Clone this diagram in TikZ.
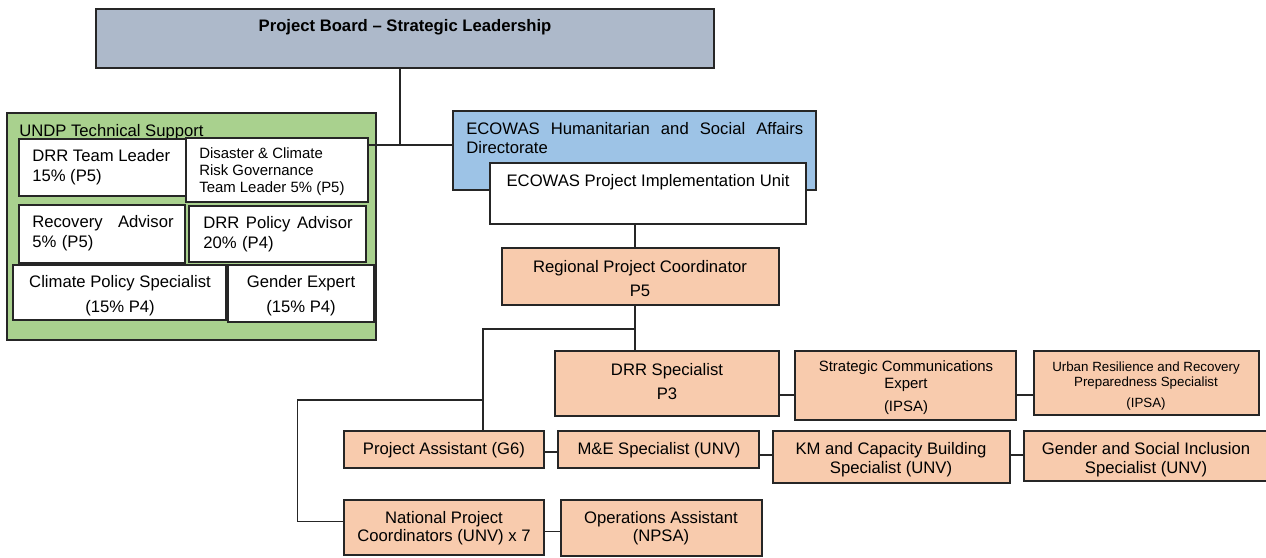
\documentclass[tikz,border=0pt]{standalone}
\usepackage{fontspec}
\setmainfont{Liberation Sans}
\usetikzlibrary{fit}
\newcommand\fsz[2]{\fontsize{#1}{#2}\selectfont}
\definecolor{boardc}{HTML}{ADB9CA}
\definecolor{greenc}{HTML}{A9D18E}
\definecolor{bluec}{HTML}{9DC3E6}
\definecolor{peachc}{HTML}{F8CBAD}
\definecolor{linec}{HTML}{262626}
\begin{document}
\begin{tikzpicture}[x=0.75pt,y=-0.75pt,
  box/.style={draw=linec, line width=0.9pt, inner sep=0pt, rectangle},
  wbox/.style={box, fill=white},
  pbox/.style={box, fill=peachc},
  lbl/.style={inner sep=0pt, align=center, text=black, yshift=-1.5pt},
  conn/.style={draw=linec, line width=0.8pt}]
\useasboundingbox (0,0) rectangle (1266,557);

% Project board
\node[box, fill=boardc, fit={(96,9) (714,68)}] (board) {};
\node[lbl, font=\bfseries\fsz{12.5}{15}] (boardt) at (405,25) {Project Board – Strategic Leadership};

% UNDP technical support
\node[box, fill=greenc, fit={(7,113) (376,340)}] (undp) {};
\node[lbl, anchor=west, font=\fsz{12.5}{15}] (undpt) at (19,130) {UNDP Technical Support};

\node[wbox, fit={(19,139) (187,196)}] (drrtl) {};
\node[lbl, align=left, anchor=west, font=\fsz{12.5}{15}] (drrtlt) at (32,165) {DRR Team Leader\\15\% (P5)};

\node[wbox, fit={(186,138) (368,202)}] (dcr) {};
\node[lbl, align=left, anchor=west, font=\fsz{11.2}{12.75}] (dcrt) at (199,170) {Disaster \& Climate\\Risk Governance\\Team Leader 5\% (P5)};

\node[wbox, fit={(19,205) (185,263)}] (rec) {};
\node[lbl, align=left, anchor=west, text width=106pt, font=\fsz{12.5}{15}] (rect) at (32,231) {Recovery\hfill Advisor\\5\% (P5)};

\node[wbox, fit={(189,206) (366,262)}] (dpa) {};
\node[lbl, align=left, anchor=west, text width=112pt, font=\fsz{12.5}{15}] (dpat) at (203,232) {DRR\hfill Policy\hfill Advisor\\20\% (P4)};

\node[wbox, fit={(13,265) (226,320)}] (cps) {};
\node[lbl, font=\fsz{12.5}{18.75}] (cpst) at (120,293.5) {Climate Policy Specialist\\(15\% P4)};

\node[wbox, fit={(228,265) (374,322)}] (ge) {};
\node[lbl, font=\fsz{12.5}{18.75}] (get) at (301,293.5) {Gender Expert\\(15\% P4)};

% ECOWAS
\node[box, fill=bluec, fit={(453,111) (816,190)}] (eco) {};
\node[lbl, align=left, anchor=west, text width=252.75pt, font=\fsz{12.5}{14.25}] (ecot) at (466,136.5) {ECOWAS\hfill Humanitarian\hfill and\hfill Social\hfill Affairs\\Directorate};

\node[wbox, fit={(490,163) (806,224)}] (piu) {};
\node[lbl, font=\fsz{12.5}{15}] (piut) at (648,180) {ECOWAS Project Implementation Unit};

% Project team
\node[pbox, fit={(502,248) (779,305)}] (rpc) {};
\node[lbl, font=\fsz{12.5}{18}] (rpct) at (640,277) {Regional Project Coordinator\\P5};

\node[pbox, fit={(555,351) (779,416)}] (drrs) {};
\node[lbl, font=\fsz{12.5}{18}] (drrst) at (667,380) {DRR Specialist\\P3};

\node[pbox, fit={(795,351) (1016,420)}] (sc) {};
\node[lbl, font=\fsz{11.2}{12.75}] (sct) at (906,386) {Strategic Communications\\Expert\\[4.5pt](IPSA)};

\node[pbox, fit={(1034,351) (1259,415)}] (urb) {};
\node[lbl, font=\fsz{10}{11.25}] (urbt) at (1146,384) {Urban Resilience and Recovery\\Preparedness Specialist\\[4.5pt](IPSA)};

\node[pbox, fit={(344,431) (544,468)}] (pa) {};
\node[lbl, font=\fsz{12.5}{15}] (pat) at (444,448) {Project Assistant (G6)};

\node[pbox, fit={(558,431) (759,468)}] (me) {};
\node[lbl, font=\fsz{12.5}{15}] (met) at (659,448) {M\&E Specialist (UNV)};

\node[pbox, fit={(773,431) (1010,483)}] (km) {};
\node[lbl, font=\fsz{12.5}{14.25}] (kmt) at (891,457.5) {KM and Capacity Building\\Specialist (UNV)};

\node[pbox, fit={(1024,431) (1272,481)}] (gsi) {};
\node[lbl, font=\fsz{12.5}{14.25}] (gsit) at (1146,457.5) {Gender and Social Inclusion\\Specialist (UNV)};

\node[pbox, fit={(344,500) (544,555)}] (npc) {};
\node[lbl, font=\fsz{12.5}{13.5}] (npct) at (444,526) {National Project\\Coordinators (UNV) x 7};

\node[pbox, fit={(561,500) (762,556)}] (ops) {};
\node[lbl, font=\fsz{12.5}{13.5}] (opst) at (661,526) {Operations Assistant\\(NPSA)};

% connectors
\coordinate (j1) at (400,145);
\coordinate (c1) at (635,329);
\coordinate (j3) at (483,329);
\coordinate (j4) at (483,400);
\coordinate (j5) at (297.5,400);
\coordinate (j6) at (297.5,521.5);
\coordinate (y1) at (0,395);
\coordinate (y2) at (0,452);
\coordinate (y3) at (0,455);
\coordinate (y4) at (0,531.5);

\draw[conn] (board.south -| j1) -- (j1);
\draw[conn] (dcr.east |- j1) -- (eco.west |- j1);
\draw[conn] (piu.south -| c1) -- (rpc.north -| c1);
\draw[conn] (rpc.south -| c1) -- (drrs.north -| c1);
\draw[conn] (c1) -- (j3) -- (pa.north -| j3);
\draw[conn] (j4) -- (j5) -- (j6) -- (npc.west |- j6);
\draw[conn] (drrs.east |- y1) -- (sc.west |- y1);
\draw[conn] (sc.east |- y1) -- (urb.west |- y1);
\draw[conn] (pa.east |- y2) -- (me.west |- y2);
\draw[conn] (me.east |- y3) -- (km.west |- y3);
\draw[conn] (km.east |- y3) -- (gsi.west |- y3);
\draw[conn] (npc.east |- y4) -- (ops.west |- y4);
\end{tikzpicture}
\end{document}
